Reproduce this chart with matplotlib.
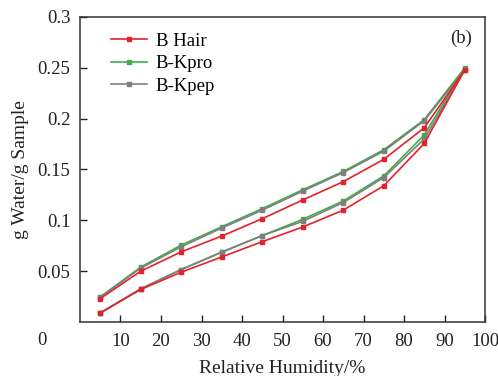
"""Moisture sorption isotherms, panel (b)."""

import matplotlib.pyplot as plt

rh = [5, 15, 25, 35, 45, 55, 65, 75, 85, 95]

# adsorption (lower branch) and desorption (upper branch), g water / g sample
hair_ads = [0.0089, 0.032, 0.049, 0.064, 0.079, 0.0934, 0.110, 0.134, 0.1756, 0.248]
hair_des = [0.023, 0.050, 0.069, 0.0845, 0.1016, 0.120, 0.138, 0.160, 0.191, 0.248]
kpro_ads = [0.0089, 0.0326, 0.0516, 0.0687, 0.085, 0.101, 0.119, 0.1437, 0.184, 0.250]
kpro_des = [0.0247, 0.054, 0.0756, 0.0937, 0.1115, 0.130, 0.148, 0.1694, 0.199, 0.250]
kpep_ads = [0.0089, 0.0326, 0.0516, 0.0687, 0.085, 0.099, 0.1175, 0.142, 0.180, 0.248]
kpep_des = [0.0243, 0.053, 0.074, 0.0924, 0.110, 0.1287, 0.147, 0.168, 0.198, 0.248]

labels = ["B Hair", "B-Kpro", "B-Kpep"]
colors = ["#e3232c", "#3fae49", "#7f7f7f"]
zorders = [4, 2, 3]

plt.rcParams["font.family"] = "Liberation Serif"

fig = plt.figure(figsize=(4.98, 3.76), dpi=100)
ax = fig.add_axes([0.1606, 0.1436, 0.8134, 0.8114])

series = [(hair_ads, hair_des), (kpro_ads, kpro_des), (kpep_ads, kpep_des)]
for (ads, des), label, color, z in zip(series, labels, colors, zorders):
    x = rh + rh[-2::-1]
    y = ads + des[-2::-1]
    ax.plot(x, y, color=color, lw=1.2, marker="s", ms=3.5, label=label, zorder=z)

ax.set_xlim(0, 100)
ax.set_ylim(0, 0.3)
ax.set_xticks(range(10, 101, 10))
ax.set_yticks([0.05, 0.1, 0.15, 0.2, 0.25, 0.3])
ax.set_yticklabels(["0.05", "0.1", "0.15", "0.2", "0.25", "0.3"])
ax.tick_params(direction="in", length=5, width=1, labelsize=13.5, colors="#222222")
ax.tick_params(axis="x", pad=8)
ax.tick_params(axis="y", pad=7)
for s in ax.spines.values():
    s.set_linewidth(1.1)
    s.set_color("#333333")

ax.text(-0.093, -0.06, "0", transform=ax.transAxes, fontsize=13.5,
        ha="center", va="center", color="#222222")
ax.text(0.94, 0.93, "(b)", transform=ax.transAxes, fontsize=13.5,
        ha="center", va="center", color="#222222")

ax.set_xlabel("Relative Humidity/%", fontsize=14, labelpad=7, color="#222222")
ax.set_ylabel("g Water/g Sample", fontsize=14, labelpad=6, color="#222222")

ax.legend(loc="upper left", bbox_to_anchor=(0.05, 0.985), frameon=False,
          fontsize=13.5, handlelength=1.9, handletextpad=0.45, labelspacing=0.28,
          borderaxespad=0.2)

fig.savefig("out.png", dpi=100)
